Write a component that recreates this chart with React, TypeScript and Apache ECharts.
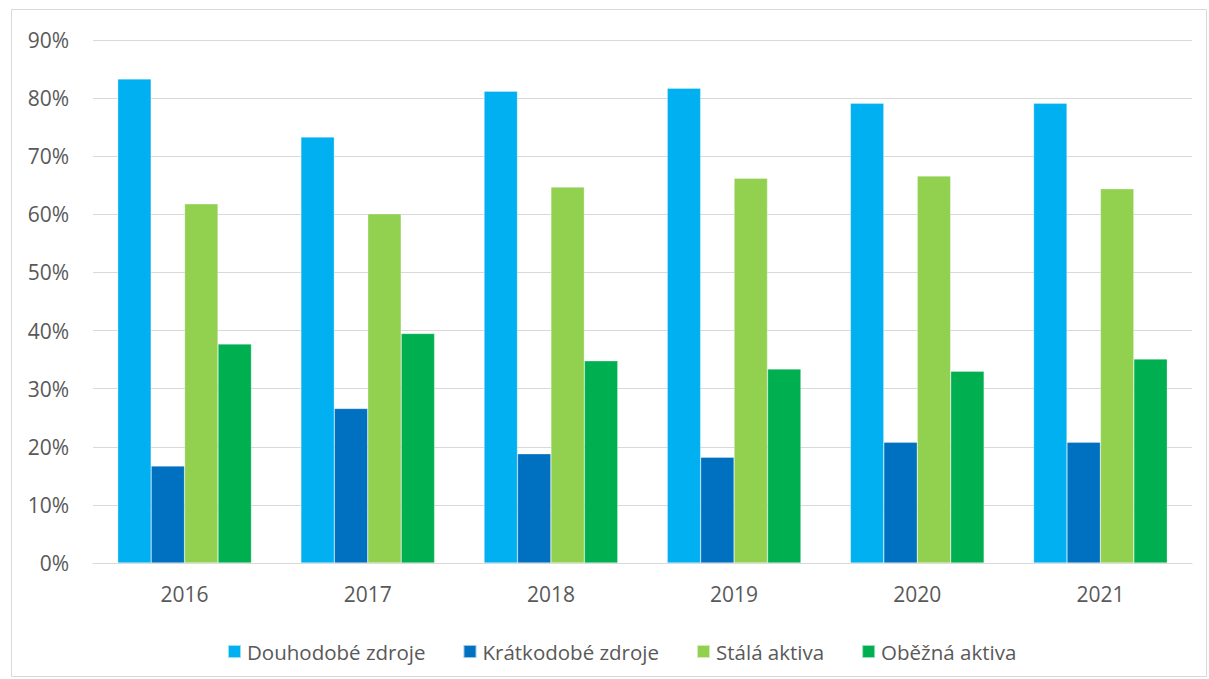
import React, { useEffect, useRef } from "react";
import * as echarts from "echarts";

const years = ["2016", "2017", "2018", "2019", "2020", "2021"];
const douhodobe = [83.3, 73.3, 81.2, 81.7, 79.1, 79.1];
const kratkodobe = [16.7, 26.6, 18.8, 18.2, 20.8, 20.8];
const stala = [61.8, 60.1, 64.7, 66.2, 66.6, 64.4];
const obezna = [37.7, 39.5, 34.8, 33.4, 33.0, 35.1];
const seriesNames = ["Douhodobé zdroje", "Krátkodobé zdroje", "Stálá aktiva", "Oběžná aktiva"];
const colors = ["#00B0F0", "#0070C0", "#92D050", "#00B050"];

const FONT = "'Open Sans', 'Noto Sans', sans-serif";

export default function App() {
  const ref = useRef<HTMLDivElement>(null);
  useEffect(() => {
    document.body.style.margin = "0";
    const chart = echarts.init(ref.current!, undefined, { renderer: "svg" });
    const data = [douhodobe, kratkodobe, stala, obezna];
    chart.setOption({
      animation: false,
      textStyle: { fontFamily: FONT },
      graphic: [
        {
          type: "rect",
          shape: { x: 11.5, y: 9.5, width: 1195, height: 667 },
          style: { fill: "none", stroke: "#d9d9d9", lineWidth: 1 },
          silent: true,
        },
      ],
      grid: { left: 93, right: 17, top: 40, bottom: 116 },
      legend: {
        left: 222,
        top: 636,
        itemWidth: 13,
        itemHeight: 13,
        itemGap: 37,
        icon: "rect",
        textStyle: { color: "#595959", fontSize: 20.5, fontFamily: FONT, padding: [0, 0, 0, 1] },
        data: seriesNames,
      },
      xAxis: {
        type: "category",
        data: years,
        axisLine: { lineStyle: { color: "#d9d9d9", width: 1 } },
        axisTick: { show: false },
        axisLabel: { color: "#595959", fontSize: 21, margin: 20, fontFamily: FONT },
      },
      yAxis: {
        type: "value",
        min: 0,
        max: 90,
        interval: 10,
        axisLine: { show: false },
        axisTick: { show: false },
        splitLine: { lineStyle: { color: "#d9d9d9", width: 1 } },
        axisLabel: {
          color: "#595959",
          fontSize: 21,
          margin: 24,
          fontFamily: FONT,
          formatter: (v: number) => `${v}%`,
        },
      },
      series: seriesNames.map((name, i) => ({
        name,
        type: "bar",
        data: data[i],
        barGap: "0%",
        barCategoryGap: "27%",
        itemStyle: { color: colors[i], borderColor: "rgba(255,255,255,0.6)", borderWidth: 0.5 },
      })),
    });
    return () => chart.dispose();
  }, []);
  return <div ref={ref} style={{ width: 1209, height: 679 }} />;
}
